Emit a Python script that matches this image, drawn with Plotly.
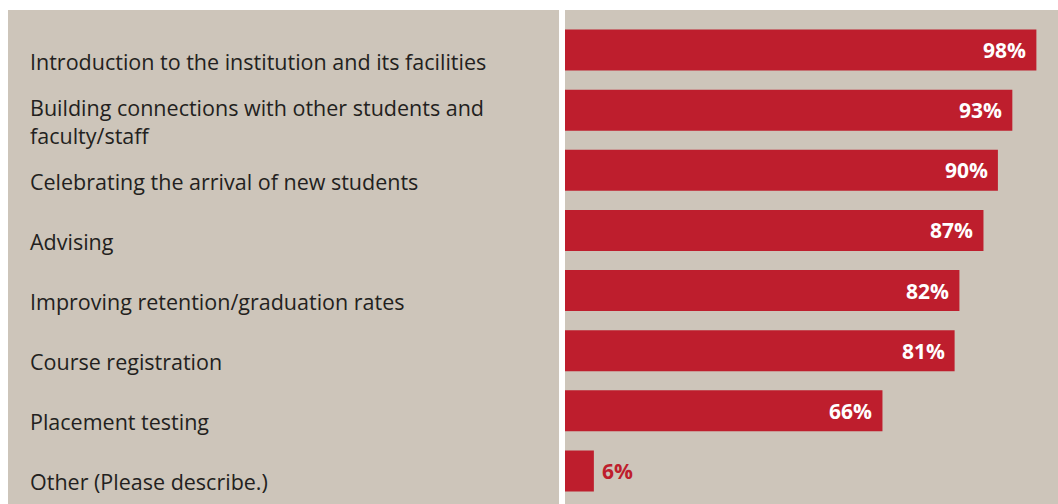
import plotly.graph_objects as go

categories = [
    "Introduction to the institution and its facilities",
    "Building connections with other students and<br>faculty/staff",
    "Celebrating the arrival of new students",
    "Advising",
    "Improving retention/graduation rates",
    "Course registration",
    "Placement testing",
    "Other (Please describe.)",
]
values = [98, 93, 90, 87, 82, 81, 66, 6]
value_labels = ["98%", "93%", "90%", "87%", "82%", "81%", "66%", "6%"]

W, H = 1058, 504
BEIGE = "#CDC5BA"
RED = "#BE1E2D"
TXT = "#231F20"
FONT = "Open Sans"

ML, MR, MT, MB = 565, 12, 20, 3
plot_w = W - ML - MR

fig = go.Figure()
fig.add_trace(go.Bar(
    x=values, y=list(range(len(categories))), orientation="h",
    marker=dict(color=RED, line=dict(width=0)),
    hoverinfo="skip",
))

annotations = []
for i, (cat, v, lab) in enumerate(zip(categories, values, value_labels)):
    annotations.append(dict(
        x=(28 - ML) / plot_w, xref="paper", y=i, yref="y",
        text=cat, showarrow=False, xanchor="left", yanchor="middle",
        yshift=-11, align="left",
        font=dict(family=FONT, size=21.5, color=TXT),
    ))
    if v >= 20:
        annotations.append(dict(
            x=v, y=i, xref="x", yref="y", text=lab, showarrow=False,
            xanchor="right", yanchor="middle", xshift=-8,
            font=dict(family=FONT, size=21, color="white", weight="bold"),
        ))
    else:
        annotations.append(dict(
            x=v, y=i, xref="x", yref="y", text=lab, showarrow=False,
            xanchor="left", yanchor="middle", xshift=6,
            font=dict(family=FONT, size=21, color=RED, weight="bold"),
        ))

def px_x(p):
    return (p - ML) / plot_w

def px_y(p):
    return 1 - (p - MT) / (H - MT - MB)

shapes = [
    dict(type="rect", xref="paper", yref="paper", x0=px_x(-5), x1=px_x(8), y0=px_y(H + 5), y1=px_y(-5),
         fillcolor="white", line=dict(width=0), layer="below"),
    dict(type="rect", xref="paper", yref="paper", x0=px_x(-5), x1=px_x(W + 5), y0=px_y(10), y1=px_y(-5),
         fillcolor="white", line=dict(width=0), layer="below"),
    dict(type="rect", xref="paper", yref="paper", x0=px_x(559), x1=px_x(565), y0=px_y(H + 5), y1=px_y(-5),
         fillcolor="white", line=dict(width=0), layer="below"),
]

fig.update_layout(
    width=W, height=H,
    margin=dict(l=ML, r=MR, t=MT, b=MB),
    paper_bgcolor=BEIGE, plot_bgcolor=BEIGE,
    showlegend=False,
    bargap=0.32,
    xaxis=dict(range=[0, 100], visible=False, fixedrange=True),
    yaxis=dict(range=[len(categories) - 0.5, -0.5], visible=False, fixedrange=True),
    annotations=annotations,
    shapes=shapes,
)

fig.write_html(
    "out.html",
    config={"displayModeBar": False},
    post_script="document.body.style.margin='0';document.body.style.padding='0';",
)
